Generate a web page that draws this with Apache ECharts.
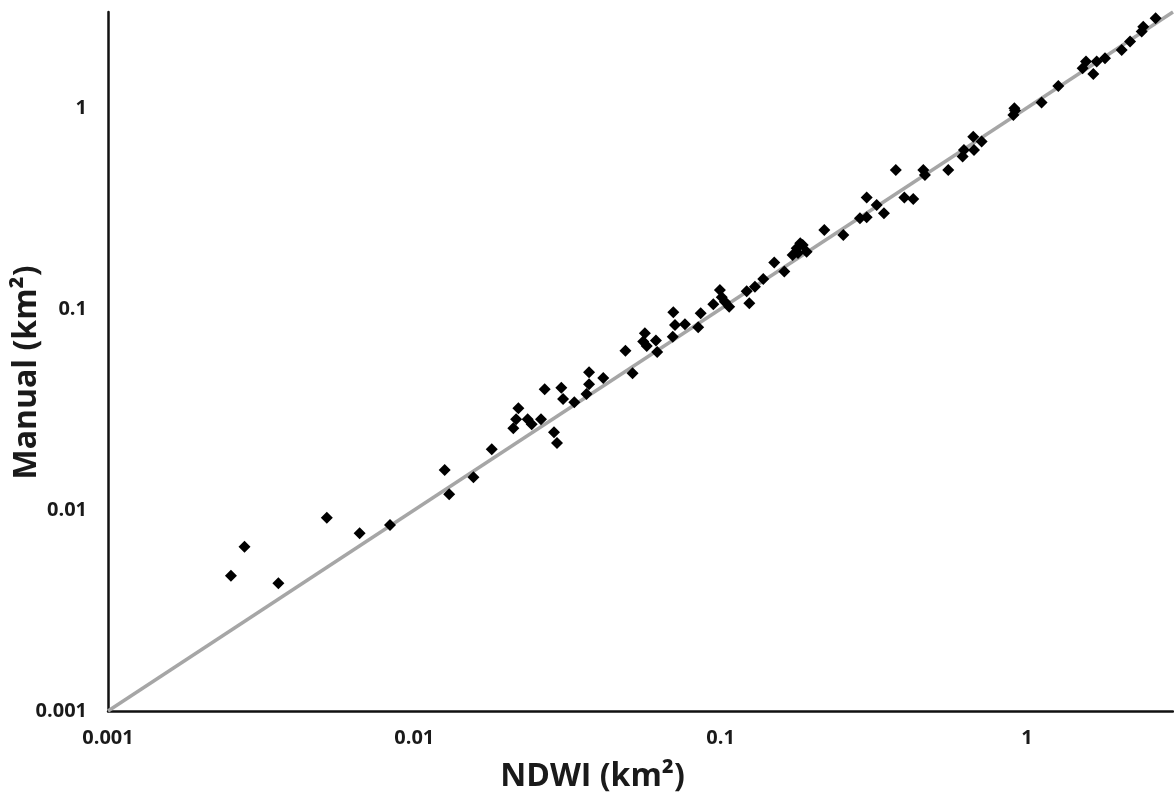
<!DOCTYPE html>
<html>
<head>
<meta charset="utf-8">
<script src="https://cdn.jsdelivr.net/npm/echarts@6/dist/echarts.min.js"></script>
<style>
html,body{margin:0;padding:0;background:#fff;}
#chart{width:1174px;height:801px;}
</style>
</head>
<body>
<div id="chart"></div>
<script>
// NDWI area (km²) - x values
const ndwi = [0.00252,0.00279,0.00360,0.00518,0.00663,0.00833,0.01257,0.0130,0.0156,0.0179,
0.02105,0.0215,0.02187,0.02345,0.02417,0.02592,0.02665,0.02858,0.02924,0.0302,
0.0306,0.0333,0.0365,0.0372,0.0372,0.0414,0.0489,0.0516,0.0559,0.0566,
0.0574,0.0615,0.0621,0.0701,0.0710,0.0698,0.0765,0.0845,0.0861,0.0947,
0.0995,0.1009,0.1033,0.1067,0.1217,0.1241,0.1295,0.1378,0.1497,0.1615,
0.1719,0.1772,0.1854,0.1910,0.1790,0.1820,0.2181,0.2516,0.2851,0.2999,
0.2999,0.3234,0.3415,0.3733,0.3981,0.4257,0.4592,0.4648,0.5538,0.6170,
0.6232,0.6683,0.6720,0.7117,0.9035,0.9103,0.915,1.117,1.267,1.521,
1.560,1.648,1.690,1.799,2.040,2.172,2.371,2.399,2.633];
// Manual area (km²) - y values
const manual = [0.00471,0.00657,0.00432,0.00916,0.00766,0.00842,0.01581,0.01197,0.01455,0.02005,
0.02549,0.02827,0.03206,0.02827,0.02670,0.02827,0.0399,0.02435,0.02154,0.04058,
0.03566,0.03433,0.03777,0.04220,0.04842,0.04536,0.0620,0.0479,0.0688,0.0757,
0.0655,0.0696,0.0611,0.0963,0.0832,0.0728,0.0839,0.0811,0.0952,0.1055,
0.1244,0.1143,0.1087,0.1026,0.1225,0.1067,0.1291,0.1410,0.1700,0.1534,
0.1857,0.2005,0.2081,0.1928,0.19,0.212,0.2472,0.2334,0.2826,0.2858,
0.3579,0.3290,0.2993,0.4917,0.3579,0.3524,0.4917,0.4642,0.4917,0.5724,
0.6182,0.7197,0.6182,0.6799,0.9229,0.9965,0.97,1.063,1.286,1.577,
1.700,1.476,1.700,1.767,1.944,2.137,2.398,2.537,2.793];
// 1:1 reference line
const oneToOne = [0.001, 3];
const xTicks = ['0.001','0.01','0.1','1'];
const yTicks = ['0.001','0.01','0.1','1'];

const points = ndwi.map((v,i)=>[v, manual[i]]);
const lineData = oneToOne.map(v=>[v,v]);
const font = '"Open Sans", "Noto Sans", sans-serif';

const chart = echarts.init(document.getElementById('chart'), null, {renderer:'canvas'});
chart.setOption({
  backgroundColor:'#ffffff',
  animation:false,
  grid:{left:108, right:1, top:12, bottom:90, containLabel:false, outerBoundsMode:'none'},
  xAxis:{
    type:'log', logBase:10, min:0.001, max:3,
    name:'NDWI (km²)', nameLocation:'middle', nameGap:50, nameMoveOverlap:false,
    nameTextStyle:{fontFamily:font, fontWeight:'bold', fontSize:32, color:'#1a1a1a', padding:[0,96,0,0]},
    axisLine:{lineStyle:{color:'#111', width:2.5}},
    axisTick:{show:false},
    splitLine:{show:false},
    minorTick:{show:false},
    axisLabel:{fontFamily:font, fontWeight:'bold', fontSize:20, color:'#1a1a1a', margin:17,
      formatter:function(v){ const s = xTicks.find(t=>Math.abs(parseFloat(t)-v)/v<1e-6); return s||''; }}
  },
  yAxis:{
    type:'log', logBase:10, min:0.001, max:3,
    name:'Manual (km²)', nameLocation:'middle', nameGap:65, nameMoveOverlap:false,
    nameTextStyle:{fontFamily:font, fontWeight:'bold', fontSize:32, color:'#1a1a1a', padding:[0,22,0,0]},
    axisLine:{lineStyle:{color:'#111', width:2.5}},
    axisTick:{show:false},
    splitLine:{show:false},
    axisLabel:{fontFamily:font, fontWeight:'bold', fontSize:20, color:'#1a1a1a', margin:21,
      formatter:function(v){ const s = yTicks.find(t=>Math.abs(parseFloat(t)-v)/v<1e-6); return s||''; }}
  },
  series:[
    {type:'line', data:lineData, symbol:'none', silent:true,
     lineStyle:{color:'#a6a6a6', width:3.5}, z:1},
    {type:'scatter', data:points, symbol:'diamond', symbolSize:[12,12],
     itemStyle:{color:'#000', opacity:1}, z:2}
  ]
});
</script>
</body>
</html>
